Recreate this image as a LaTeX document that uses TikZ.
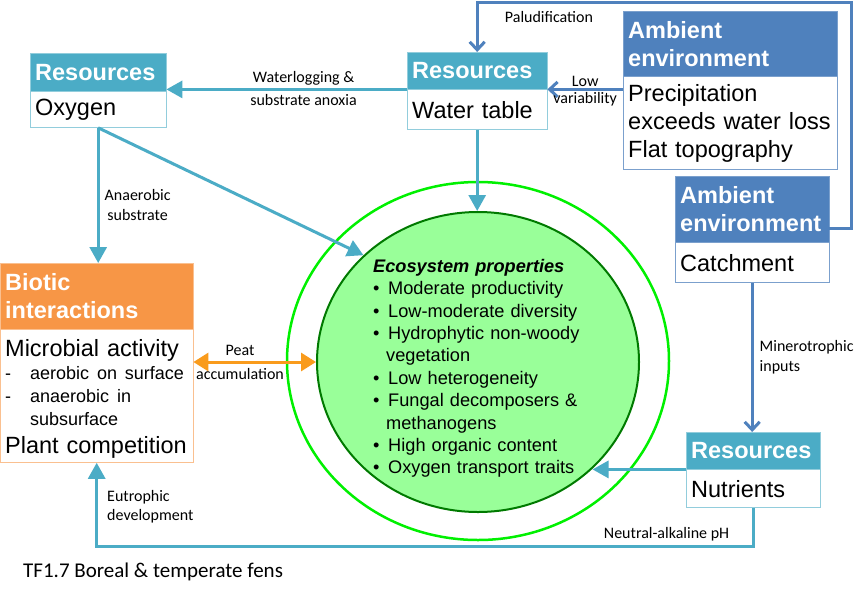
\documentclass[tikz,border=0pt]{standalone}
\usepackage{fontspec}
\setmainfont{Liberation Sans}
\newfontfamily\lblfont{Carlito}
\usetikzlibrary{positioning,calc,arrows.meta,shapes.geometric}
\definecolor{lblue}{HTML}{4BACC6}
\definecolor{lbluebd}{HTML}{92CDDC}
\definecolor{dblue}{HTML}{4F81BD}
\definecolor{dbluebd}{HTML}{7BA0CD}
\definecolor{orng}{HTML}{F79646}
\definecolor{orngbd}{HTML}{FAC090}
\definecolor{oarrow}{HTML}{F99B1C}
\definecolor{ringcol}{HTML}{00F000}
\definecolor{ecofill}{HTML}{99FF99}
\definecolor{ecoline}{HTML}{007A00}
\setlength{\parindent}{0pt}
\newcommand{\bul}{\makebox[15pt][l]{\textbullet}}
\newcommand{\dsh}{\makebox[25pt][l]{-}}

\begin{document}
\begin{tikzpicture}[x=1pt, y=-1pt,
  hdr/.style={anchor=north west, inner xsep=5pt, inner ysep=0pt, align=left,
    text=white, font=\bfseries\fontsize{23.5}{28}\selectfont},
  bdy/.style={inner xsep=5pt, inner ysep=0pt, align=left, fill=white,
    font=\fontsize{23.5}{28}\selectfont},
  lbl/.style={font=\lblfont\fontsize{16}{19.5}\selectfont, inner sep=1pt, align=center},
  larr/.style={draw=lblue, line width=3pt, -{Triangle[length=16pt,width=17pt]}},
  darr/.style={draw=dblue, line width=3pt, -{Straight Barb[length=8pt,width=15pt]}},
  oarr/.style={draw=oarrow, line width=3pt,
    {Triangle[length=15pt,width=18pt]}-{Triangle[length=15pt,width=18pt]}}]

  \fill[white] (0,0) rectangle (867,598);
  \useasboundingbox (0,0) rectangle (867,598);

  % ecosystem
  \node[ellipse, draw=ringcol, line width=2.5pt, minimum width=382pt,
    minimum height=358pt, inner sep=0pt] (ring) at (478,361) {};
  \node[ellipse, draw=ecoline, fill=ecofill, line width=2pt, minimum width=322pt,
    minimum height=300pt, inner sep=0pt] (eco) at (478,362) {};
  \node[anchor=north west, inner sep=0pt, text width=215pt,
    font=\fontsize{18.2}{22.4}\selectfont] (ecotxt) at (373,259) {%
    \textbf{\textit{Ecosystem properties}}\par
    \bul Moderate productivity\par
    \bul Low-moderate diversity\par
    \bul Hydrophytic non-woody\par
    \hspace*{13pt}vegetation\par
    \bul Low heterogeneity\par
    \bul Fungal decomposers \&\par
    \hspace*{13pt}methanogens\par
    \bul High organic content\par
    \bul Oxygen transport traits};

  % boxes
  \node[hdr, fill=lblue, draw=lbluebd, text width=126pt, minimum height=38pt]
    (oxh) at (30,53) {Resources};
  \node[bdy, draw=lbluebd, text width=126pt, minimum height=36pt, below=0pt of oxh]
    (oxb) {Oxygen};

  \node[hdr, fill=lblue, draw=lbluebd, text width=130pt, minimum height=37pt]
    (wth) at (407,52) {Resources};
  \node[bdy, draw=lbluebd, text width=130pt, minimum height=40pt, below=0pt of wth]
    (wtb) {Water table};

  \node[hdr, fill=dblue, draw=dbluebd, text width=204pt, minimum height=65pt]
    (amb1h) at (623,11) {Ambient\\environment};
  \node[bdy, draw=dbluebd, text width=204pt, minimum height=93pt, below=0pt of amb1h]
    (amb1b) {Precipitation\\exceeds water loss\\Flat topography};

  \node[hdr, fill=dblue, draw=dbluebd, text width=144pt, minimum height=66pt]
    (amb2h) at (675,176) {Ambient\\environment};
  \node[bdy, draw=dbluebd, text width=144pt, minimum height=40pt, below=0pt of amb2h]
    (amb2b) {Catchment};

  \node[hdr, fill=orng, draw=orngbd, text width=183pt, minimum height=66pt]
    (bioh) at (0,263) {Biotic\\interactions};
  \node[bdy, draw=orngbd, text width=183pt, minimum height=133pt, below=0pt of bioh]
    (biob) {\rule{0pt}{22pt}Microbial activity\par
    {\fontsize{18}{23}\selectfont
    \dsh aerobic on surface\par
    \dsh anaerobic in\par
    \hspace*{25pt}subsurface\par}
    Plant competition};

  \node[hdr, fill=lblue, draw=lbluebd, text width=124pt, minimum height=37pt]
    (nuth) at (686,432) {Resources};
  \node[bdy, draw=lbluebd, text width=124pt, minimum height=38pt, below=0pt of nuth]
    (nutb) {Nutrients};

  % connectors
  \coordinate (palc) at (851,2);
  \draw[darr] ($(amb2h.south east)+(0,-14)$) -| (palc) -| (wth.north)
    node[lbl, pos=0.404, below=7pt] {Paludification};
  \draw[darr] (amb1b.west |- wtb.north east) -- (wtb.north east)
    node[lbl, midway, above] {Low} node[lbl, midway, below] {variability};
  \draw[larr] (wtb.north west) -- (oxb.north east |- wtb.north west)
    node[lbl, pos=0.43, above=2pt] {Waterlogging \&}
    node[lbl, pos=0.43, below=2pt] {substrate anoxia};
  \draw[larr] (wtb.south) -- (wtb.south |- eco.north);
  \draw[larr] (oxb.south) -- (oxb.south |- bioh.north)
    node[lbl, pos=0.57, right=4pt] {Anaerobic\\substrate};
  \draw[larr] (oxb.south) -- (eco.137);
  \draw[oarr] (biob.east |- eco.west) -- (eco.west)
    node[lbl, pos=0.38, above=4pt] {Peat}
    node[lbl, pos=0.38, below=4pt] {accumulation};
  \draw[darr] (amb2b.south) -- (amb2b.south |- nuth.north)
    node[lbl, midway, right=5pt, align=left] {Minerotrophic\\inputs};
  \draw[larr] (nutb.north west) -- (nutb.north west -| eco.-43);
  \draw[larr] (nutb.south) -- ++(0,39) -| (biob.south)
    node[lbl, pos=0.066, above=3pt] {Neutral-alkaline pH}
    node[lbl, pos=0.738, right=8pt, align=left] {Eutrophic\\development};

  \node[anchor=west, inner sep=0pt, font=\lblfont\fontsize{21}{25}\selectfont]
    (cap) at (23,572) {TF1.7 Boreal \& temperate fens};

\end{tikzpicture}
\end{document}
